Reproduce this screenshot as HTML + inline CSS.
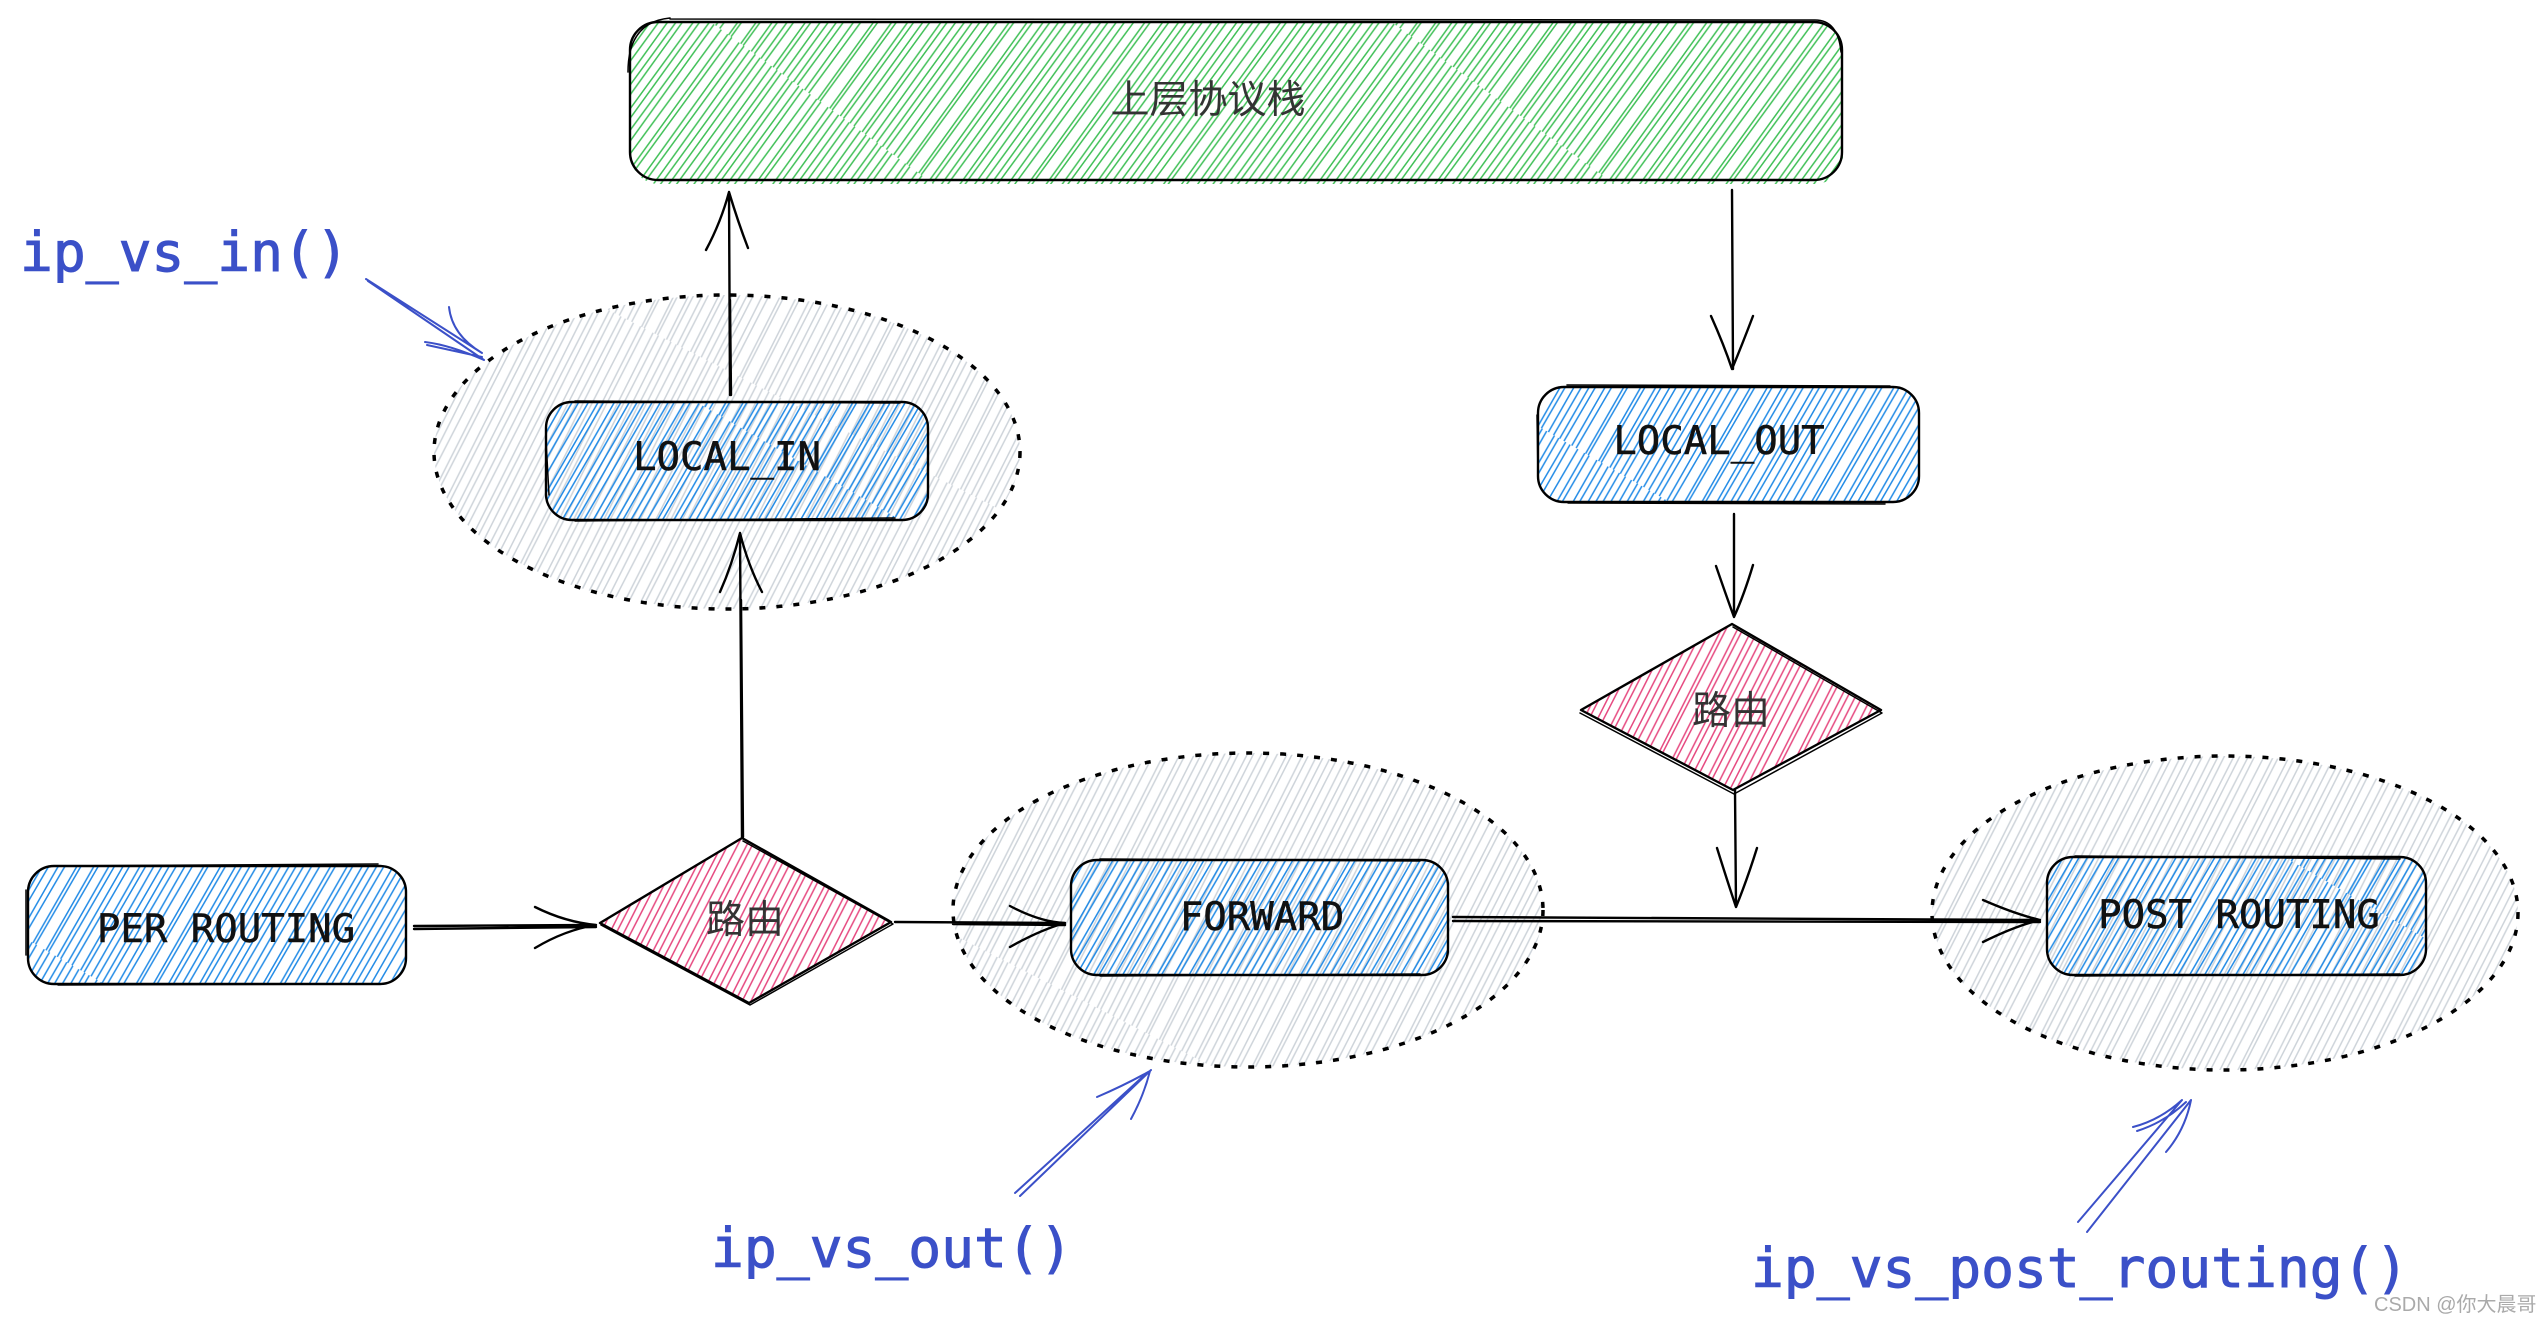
<!DOCTYPE html>
<html><head><meta charset="utf-8"><style>
html,body{margin:0;padding:0;background:#fff}
svg{display:block}
.m{font-family:"DejaVu Sans Mono","Liberation Mono",monospace;font-size:39px;fill:#111;stroke:#111;stroke-width:.5}
.b{font-family:"DejaVu Sans Mono","Liberation Mono",monospace;font-size:54.6px;fill:#3b50c8;stroke:#3b50c8;stroke-width:1}
.c{font-family:"Liberation Sans","Noto Sans CJK SC",sans-serif;font-size:39px;fill:#333}
.s{fill:none;stroke:#000;stroke-width:2.4;stroke-linecap:round;stroke-linejoin:round}
.t{fill:none;stroke:#000;stroke-width:1.5;stroke-linecap:round;stroke-linejoin:round}
.d{fill:none;stroke:#000;stroke-width:3.5;stroke-dasharray:6 11}
.a{fill:none;stroke:#3b50c8;stroke-width:2;stroke-linecap:round}
</style></head><body>
<svg xmlns="http://www.w3.org/2000/svg" width="2540" height="1323" viewBox="0 0 2540 1323">
<defs>
<g id="h">
<path d="M3 0L5 400M10 0L9 400M15 0L17 400M24 0L23 400M29 0L30 400M37 0L35 400M42 0L44 400M51 0L49 400M59 0L60 400M64 0L63 400M73 0L75 400M79 0L78 400M86 0L88 400M93 0L92 400M99 0L100 400M106 0L105 400" fill="none" stroke-width="1.5"/>
</g>
<pattern id="green" width="110" height="400" patternUnits="userSpaceOnUse" patternTransform="rotate(36)"><use href="#h" stroke="#40c057"/></pattern>
<pattern id="blue" width="110" height="400" patternUnits="userSpaceOnUse" patternTransform="rotate(30)"><use href="#h" stroke="#228be6"/></pattern>
<pattern id="pink" width="110" height="400" patternUnits="userSpaceOnUse" patternTransform="rotate(27)"><use href="#h" stroke="#e64980"/></pattern>
<pattern id="gray" width="110" height="400" patternUnits="userSpaceOnUse" patternTransform="rotate(27)"><use href="#h" stroke="#ced4da"/></pattern>
</defs>

<!-- gray ellipses -->
<ellipse cx="727" cy="452" rx="293" ry="157" fill="url(#gray)"/>
<ellipse cx="727" cy="452" rx="293" ry="157" class="d"/>
<ellipse cx="1248" cy="910" rx="295" ry="157" fill="url(#gray)"/>
<ellipse cx="1248" cy="910" rx="295" ry="157" class="d"/>
<ellipse cx="2225" cy="913" rx="293" ry="157" fill="url(#gray)"/>
<ellipse cx="2225" cy="913" rx="293" ry="157" class="d"/>

<!-- green box -->
<rect x="631" y="22" width="1212" height="162" rx="28" fill="url(#green)"/>
<rect x="630" y="22" width="1212" height="158" rx="28" class="s"/>
<path d="M670 19L1815 20Q1838 20 1841 52M628 72Q628 22 670 18" class="t"/>
<text x="1208" y="113" text-anchor="middle" class="c">上层协议栈</text>

<!-- LOCAL_IN -->
<rect x="546" y="402" width="382" height="118" rx="26" fill="url(#blue)"/>
<rect x="546" y="402" width="382" height="118" rx="26" class="s"/>
<path d="M575 401L900 403M575 521L895 518M546 440L549 495" class="t"/>
<text x="727" y="470" text-anchor="middle" class="m">LOCAL_IN</text>

<!-- LOCAL_OUT -->
<rect x="1538" y="387" width="381" height="115" rx="26" fill="url(#blue)"/>
<rect x="1538" y="387" width="381" height="115" rx="26" class="s"/>
<path d="M1567 385L1890 386M1568 503L1885 504M1537 415L1538 475" class="t"/>
<text x="1719" y="454" text-anchor="middle" class="m">LOCAL_OUT</text>

<!-- PER ROUTING -->
<rect x="28" y="866" width="378" height="118" rx="26" fill="url(#blue)"/>
<rect x="28" y="866" width="378" height="118" rx="26" class="s"/>
<path d="M55 866L378 864M58 985L378 984M26 890L26 955" class="t"/>
<text x="226" y="942" text-anchor="middle" class="m">PER ROUTING</text>

<!-- FORWARD -->
<rect x="1071" y="860" width="377" height="115" rx="26" fill="url(#blue)"/>
<rect x="1071" y="860" width="377" height="115" rx="26" class="s"/>
<path d="M1100 859L1420 861M1100 976L1420 974" class="t"/>
<text x="1262" y="930" text-anchor="middle" class="m">FORWARD</text>

<!-- POST ROUTING -->
<rect x="2047" y="857" width="379" height="118" rx="26" fill="url(#blue)"/>
<rect x="2047" y="857" width="379" height="118" rx="26" class="s"/>
<path d="M2075 856L2400 859M2075 976L2400 974" class="t"/>
<text x="2239" y="928" text-anchor="middle" class="m">POST ROUTING</text>

<!-- diamonds -->
<path d="M742 838L891 922L749 1003L600 923Z" fill="url(#pink)"/>
<path d="M742 838L891 922L749 1003L600 923Z" class="s"/>
<path d="M743 841L893 924L750 1005L601 925" class="t"/>
<text x="745" y="933" text-anchor="middle" class="c">路由</text>
<path d="M1732 624L1881 710L1733 790L1581 710Z" fill="url(#pink)"/>
<path d="M1732 624L1881 710L1733 790L1581 710Z" class="s"/>
<path d="M1733 627L1882 713L1734 794L1580 713" class="t"/>
<text x="1731" y="724" text-anchor="middle" class="c">路由</text>

<!-- black connectors -->
<path d="M730 395L729 192M706 250Q721 222 729 192Q738 222 748 248M731 395L730 300" class="s"/>
<path d="M742 837L740 533M720 592Q732 565 740 533Q748 565 762 592M743 837L741 600" class="s"/>
<path d="M1732 190L1733 369M1711 316Q1724 345 1732 369Q1742 345 1753 316" class="s"/>
<path d="M1734 514L1734 617M1716 566Q1726 595 1734 617Q1744 595 1753 565" class="s"/>
<path d="M1735 790L1736 907M1717 848Q1727 880 1736 907Q1747 880 1757 848" class="s"/>
<path d="M414 926L596 925M414 929L596 927M535 907Q565 922 596 925Q565 930 535 948" class="s"/>
<path d="M895 922L1065 923M953 924L1065 925M1010 906Q1040 922 1065 923Q1040 930 1010 947" class="s"/>
<path d="M1453 917L2040 920M1453 921L2040 922M1983 900Q2015 914 2040 920Q2015 926 1983 942" class="s"/>

<!-- blue arrows -->
<path d="M366 279L482 353M368 281L484 360M449 307Q452 335 482 353M425 342Q450 345 484 360M427 345Q450 350 482 357" class="a"/>
<path d="M1015 1193L1148 1072M1020 1196L1151 1070M1097 1097Q1125 1085 1150 1071M1131 1119Q1144 1095 1150 1071" class="a"/>
<path d="M2078 1222L2182 1100M2087 1232L2191 1100M2133 1127Q2160 1120 2182 1100M2137 1131Q2165 1122 2186 1102M2166 1152Q2185 1130 2191 1100" class="a"/>

<!-- blue labels -->
<text x="20" y="271" class="b">ip_vs_in()</text>
<text x="711" y="1267" class="b">ip_vs_out()</text>
<text x="1751" y="1287" class="b">ip_vs_post_routing()</text>

<text x="2374" y="1311" font-family="'Liberation Sans','Noto Sans CJK SC',sans-serif" font-size="20" fill="#aaa">CSDN @你大晨哥</text>
</svg>
</body></html>
